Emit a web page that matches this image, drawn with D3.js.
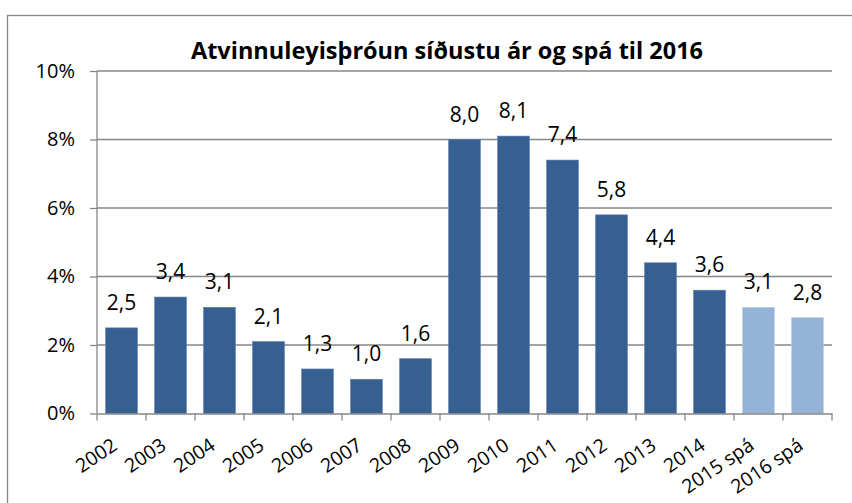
<!DOCTYPE html>
<html>
<head>
<meta charset="utf-8">
<script src="https://cdn.jsdelivr.net/npm/d3@7"></script>
<style>
  body { margin: 0; background: #fff; }
  text { font-family: "Open Sans", "Noto Sans", sans-serif; fill: #000; }
</style>
</head>
<body>
<svg id="chart" width="852" height="503"></svg>
<script>
let years = ["2002", "2003", "2004", "2005", "2006", "2007", "2008", "2009", "2010", "2011", "2012", "2013", "2014", "2015 spá", "2016 spá"];
let rates = [2.5, 3.4, 3.1, 2.1, 1.3, 1.0, 1.6, 8.0, 8.1, 7.4, 5.8, 4.4, 3.6, 3.1, 2.8];
let forecast = [false, false, false, false, false, false, false, false, false, false, false, false, false, true, true];
let yTicks = [0, 2, 4, 6, 8, 10];
let title = "Atvinnuleyisþróun síðustu ár og spá til 2016";

let svg = d3.select("#chart");
let margin = {left: 97, right: 20, top: 71, bottom: 89};
let plotW = 832 - margin.left;
let plotH = 413.5 - margin.top;

// frame round the chart, cut off on the right and bottom like the original
svg.append("rect")
    .attr("x", 7.5).attr("y", 15.5)
    .attr("width", 900).attr("height", 600)
    .attr("fill", "none")
    .attr("stroke", "#868686")
    .attr("stroke-width", 1.3)

svg.append("text")
    .attr("x", 447)
    .attr("y", 59)
    .attr("text-anchor", "middle")
    .style("font-size", "23.5px")
    .style("font-weight", "bold")
    .text(title)

let x = d3.scaleBand()
    .domain(years)
    .range([margin.left, margin.left + plotW])
    .paddingInner(0.35)
    .paddingOuter(0.175)

let y = d3.scaleLinear()
    .domain([0, 10])
    .range([margin.top + plotH, margin.top])

// gridlines
svg.append("g")
    .selectAll("line")
    .data(yTicks.filter(t => t > 0))
    .join("line")
    .attr("x1", margin.left).attr("x2", margin.left + plotW)
    .attr("y1", d => y(d)).attr("y2", d => y(d))
    .attr("stroke", "#868686")
    .attr("stroke-width", 1.3)

// y axis
let yAxis = svg.append("g")
    .attr("transform", "translate(" + margin.left + ",0)")
    .call(d3.axisLeft(y).tickValues(yTicks).tickSize(7).tickPadding(15).tickFormat(d => d + "%"))
yAxis.selectAll("line, path").attr("stroke", "#868686").attr("stroke-width", 1.3)
yAxis.select(".domain").attr("d", "M0," + y(0) + "V" + y(10))
yAxis.selectAll("text").style("font-size", "20px").attr("fill", "#000")

// bars
svg.append("g")
    .selectAll("rect")
    .data(rates)
    .join("rect")
    .attr("x", (d, i) => x(years[i]))
    .attr("width", x.bandwidth())
    .attr("y", d => y(d))
    .attr("height", d => y(0) - y(d))
    .attr("fill", (d, i) => forecast[i] ? "#95b3d7" : "#376092")
    .attr("stroke", (d, i) => forecast[i] ? "#b9cde5" : "#5b7fae")
    .attr("stroke-width", 0.6)

// value labels
svg.append("g")
    .selectAll("text")
    .data(rates)
    .join("text")
    .attr("x", (d, i) => x(years[i]) + x.bandwidth() / 2)
    .attr("y", d => y(d) - 18)
    .attr("text-anchor", "middle")
    .style("font-size", "21px")
    .text(d => d.toFixed(1).replace(".", ","))

// x axis
let xAxis = svg.append("g")
    .attr("transform", "translate(0," + y(0) + ")")
    .call(d3.axisBottom(x).tickSize(0).tickSizeOuter(0))
xAxis.select(".domain").attr("stroke", "#868686").attr("stroke-width", 1.3)
xAxis.selectAll(".tick").remove()

let step = x.step()
svg.append("g")
    .selectAll("line")
    .data(d3.range(years.length + 1))
    .join("line")
    .attr("x1", i => margin.left + i * step).attr("x2", i => margin.left + i * step)
    .attr("y1", y(0)).attr("y2", y(0) + 7)
    .attr("stroke", "#868686")
    .attr("stroke-width", 1.3)

svg.append("g")
    .selectAll("text")
    .data(years)
    .join("text")
    .attr("transform", d => "translate(" + (x(d) + x.bandwidth() / 2 - 3) + "," + (y(0) + 35) + ") rotate(-34)")
    .attr("text-anchor", "end")
    .style("font-size", "19.5px")
    .text(d => d)
</script>
</body>
</html>
